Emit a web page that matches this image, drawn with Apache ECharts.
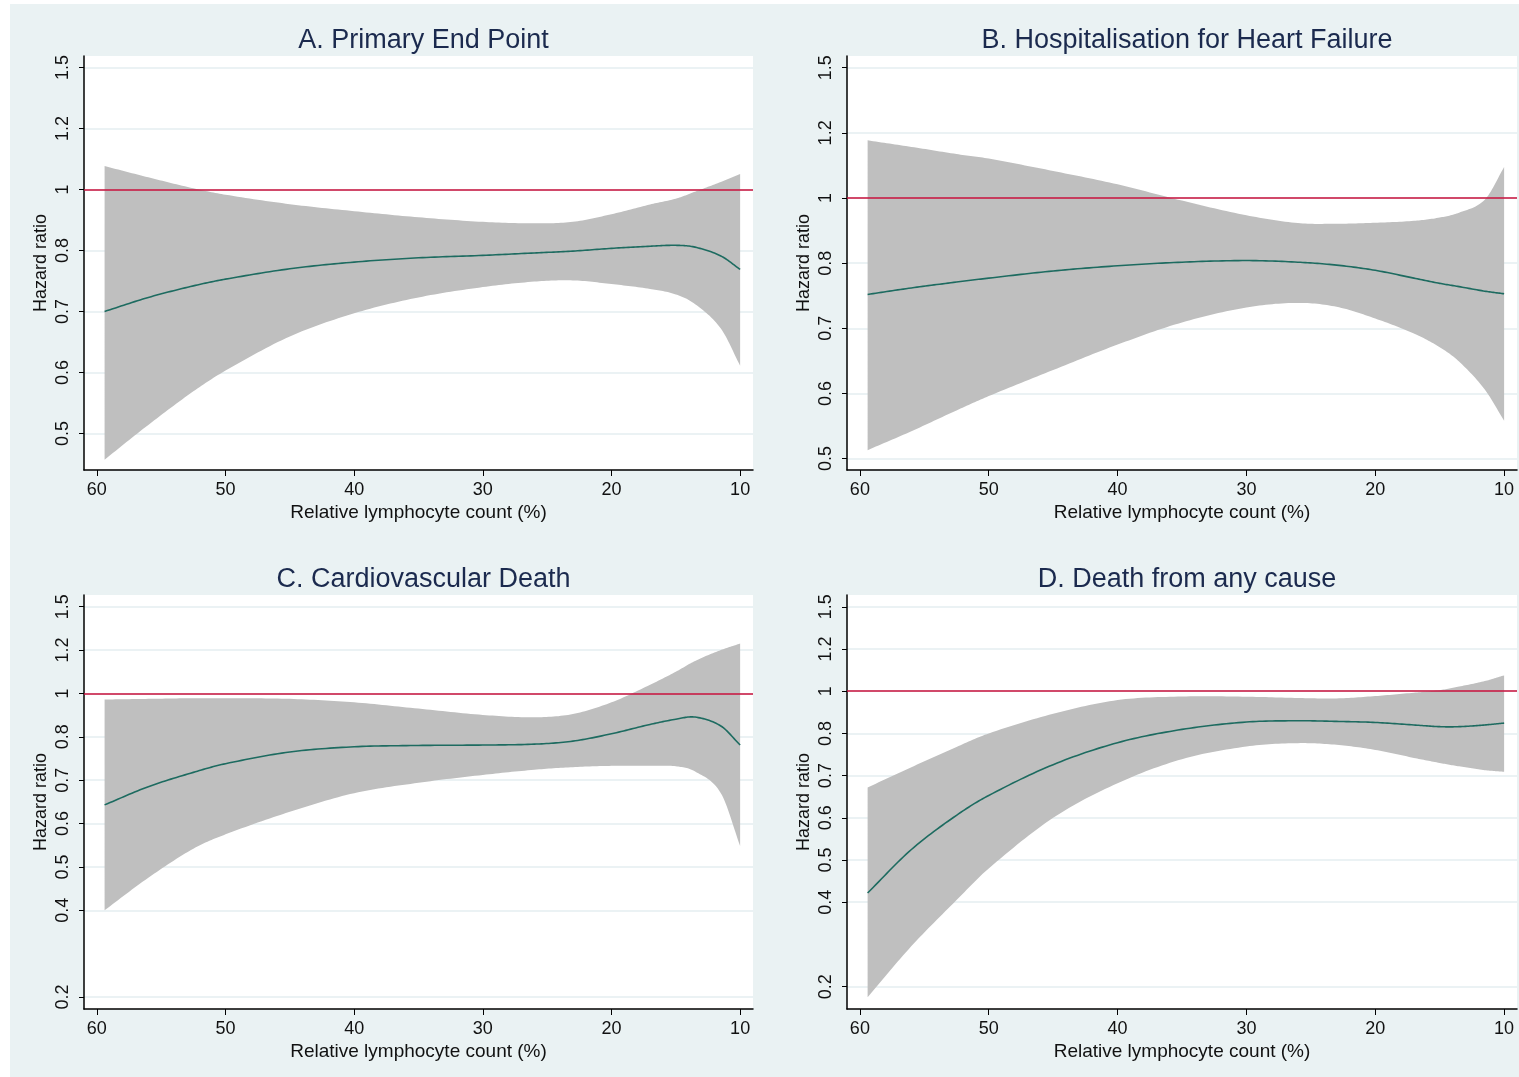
<!DOCTYPE html>
<html>
<head>
<meta charset="utf-8">
<script src="https://cdn.jsdelivr.net/npm/echarts@6/dist/echarts.min.js"></script>
<style>
html,body{margin:0;padding:0;background:#fff;}
#chart{width:1519px;height:1077px;}
</style>
</head>
<body>
<div id="chart"></div>
<script>
// ---------------- DATA ----------------
const panelTitles = [
  'A. Primary End Point',
  'B. Hospitalisation for Heart Failure',
  'C. Cardiovascular Death',
  'D. Death from any cause'
];
const xTickValues = [10, 20, 30, 40, 50, 60];
const yTicksAB = [0.5, 0.6, 0.7, 0.8, 1, 1.2, 1.5];
const yTicksCD = [0.2, 0.4, 0.5, 0.6, 0.7, 0.8, 1, 1.2, 1.5];
// Hazard-ratio axis is drawn with evenly spaced label positions
const hrAxisKnots = [0.2, 0.3, 0.4, 0.5, 0.6, 0.7, 0.8, 1.0, 1.2, 1.5];
const referenceHR = 1;

// Relative lymphocyte count (%)
const lymph = [59.4, 56, 52.5, 50, 45, 40, 35, 30, 26, 23, 20, 17, 15, 13.5, 11.5, 10];

// A. Primary end point
const hrA  = [0.700, 0.723, 0.742, 0.753, 0.770, 0.781, 0.788, 0.792, 0.796, 0.799, 0.807, 0.814, 0.817, 0.811, 0.791, 0.769];
const upA  = [1.077, 1.040, 1.004, 0.983, 0.952, 0.929, 0.909, 0.894, 0.889, 0.894, 0.919, 0.951, 0.970, 0.993, 1.025, 1.051];
const loA  = [0.457, 0.514, 0.569, 0.603, 0.659, 0.697, 0.723, 0.740, 0.749, 0.751, 0.745, 0.737, 0.728, 0.712, 0.672, 0.611];

// B. Hospitalisation for heart failure
const hrB  = [0.752, 0.762, 0.771, 0.777, 0.788, 0.796, 0.803, 0.808, 0.803, 0.797, 0.789, 0.777, 0.769, 0.764, 0.757, 0.753];
const upB  = [1.177, 1.157, 1.135, 1.121, 1.083, 1.042, 0.992, 0.947, 0.923, 0.921, 0.924, 0.930, 0.940, 0.955, 0.995, 1.095];
const loB  = [0.513, 0.542, 0.574, 0.596, 0.636, 0.675, 0.709, 0.732, 0.739, 0.733, 0.715, 0.692, 0.671, 0.649, 0.606, 0.558];

// C. Cardiovascular death
const hrC  = [0.643, 0.685, 0.718, 0.738, 0.765, 0.777, 0.780, 0.781, 0.783, 0.790, 0.814, 0.857, 0.881, 0.891, 0.850, 0.781];
const upC  = [0.972, 0.975, 0.978, 0.978, 0.975, 0.959, 0.930, 0.901, 0.890, 0.905, 0.959, 1.040, 1.100, 1.150, 1.200, 1.245];
const loC  = [0.400, 0.475, 0.542, 0.575, 0.627, 0.670, 0.694, 0.712, 0.724, 0.730, 0.733, 0.733, 0.732, 0.720, 0.670, 0.548];

// D. Death from any cause
const hrD  = [0.422, 0.525, 0.606, 0.653, 0.726, 0.778, 0.819, 0.854, 0.860, 0.857, 0.852, 0.840, 0.832, 0.832, 0.840, 0.849];
const upD  = [0.672, 0.720, 0.768, 0.800, 0.893, 0.958, 0.975, 0.974, 0.968, 0.966, 0.977, 0.993, 1.005, 1.022, 1.048, 1.075];
const loD  = [0.175, 0.296, 0.405, 0.480, 0.600, 0.682, 0.739, 0.769, 0.777, 0.773, 0.761, 0.742, 0.730, 0.722, 0.713, 0.709];

// ---------------- SCALE ----------------
function hrPos(v) {
  const k = hrAxisKnots;
  if (v <= k[0]) return (v - k[0]) / (k[1] - k[0]);
  const n = k.length - 1;
  if (v >= k[n]) return n + (v - k[n]) / (k[n] - k[n - 1]);
  for (let i = 0; i < n; i++) {
    if (v >= k[i] && v <= k[i + 1]) return i + (v - k[i]) / (k[i + 1] - k[i]);
  }
  return 0;
}

// smooth pixel-space curve through points (cubic Hermite, x monotone)
function smoothPixels(pts, steps) {
  const n = pts.length;
  if (n < 3) return pts.slice();
  const m = [];
  for (let i = 0; i < n; i++) {
    const a = pts[Math.max(0, i - 1)], b = pts[Math.min(n - 1, i + 1)];
    m.push((b[1] - a[1]) / (b[0] - a[0]));
  }
  const out = [];
  for (let i = 0; i < n - 1; i++) {
    const p0 = pts[i], p1 = pts[i + 1];
    const h = p1[0] - p0[0];
    for (let s = 0; s < steps; s++) {
      const t = s / steps, t2 = t * t, t3 = t2 * t;
      const h00 = 2 * t3 - 3 * t2 + 1, h10 = t3 - 2 * t2 + t, h01 = -2 * t3 + 3 * t2, h11 = t3 - t2;
      out.push([p0[0] + h * t, h00 * p0[1] + h10 * h * m[i] + h01 * p1[1] + h11 * h * m[i + 1]]);
    }
  }
  out.push(pts[n - 1]);
  return out;
}

// ---------------- LAYOUT ----------------
const panels = [
  {title: panelTitles[0], hr: hrA, up: upA, lo: loA, ticks: yTicksAB, grid: {left: 84, top: 56, width: 669, height: 414}, ymin: 2.40, ymax: 9.19},
  {title: panelTitles[1], hr: hrB, up: upB, lo: loB, ticks: yTicksAB, grid: {left: 847, top: 56, width: 670, height: 414}, ymin: 2.825, ymax: 9.18},
  {title: panelTitles[2], hr: hrC, up: upC, lo: loC, ticks: yTicksCD, grid: {left: 84, top: 595, width: 669, height: 414}, ymin: -0.277, ymax: 9.27},
  {title: panelTitles[3], hr: hrD, up: upD, lo: loD, ticks: yTicksCD, grid: {left: 847, top: 595, width: 670, height: 414}, ymin: -0.53, ymax: 9.28}
];

const FONT = '"Liberation Sans", Arial, Helvetica, sans-serif';
const BAND = '#bfbfbf';
const LINE = '#1d6b60';
const REF = '#c8103c';
const GRIDC = '#e4eef0';
const TITLEC = '#1b2a4e';

const option = {
  backgroundColor: '#eaf2f3',
  animation: false,
  textStyle: {fontFamily: FONT},
  graphic: [
    {type: 'rect', left: 0, top: 0, shape: {width: 10, height: 1077}, style: {fill: '#ffffff'}, silent: true},
    {type: 'rect', left: 0, top: 0, shape: {width: 1519, height: 4}, style: {fill: '#ffffff'}, silent: true}
  ],
  title: [],
  grid: [],
  xAxis: [],
  yAxis: [],
  series: []
};

panels.forEach((p, i) => {
  const g = p.grid;
  option.grid.push({left: g.left, top: g.top, width: g.width, height: g.height, show: true, backgroundColor: '#ffffff', borderWidth: 0, containLabel: false});
  option.title.push({
    text: p.title,
    left: g.left + g.width / 2,
    top: g.top - 34,
    textAlign: 'center',
    textStyle: {fontFamily: FONT, fontSize: 27, fontWeight: 'normal', color: TITLEC}
  });
  option.xAxis.push({
    type: 'value', gridIndex: i, min: 9, max: 61, inverse: true,
    name: 'Relative lymphocyte count (%)', nameLocation: 'middle', nameGap: 33,
    nameTextStyle: {fontFamily: FONT, fontSize: 19, color: '#111'},
    axisLine: {show: true, onZero: false, lineStyle: {color: '#000', width: 1.5}},
    axisTick: {show: true, length: 6, customValues: xTickValues, lineStyle: {color: '#000', width: 1}},
    axisLabel: {customValues: xTickValues, fontFamily: FONT, fontSize: 18, color: '#111', margin: 11},
    splitLine: {show: false}
  });
  const tickPos = p.ticks.map(hrPos);
  const labelFor = {};
  p.ticks.forEach(t => { labelFor[hrPos(t).toFixed(4)] = String(t); });
  option.yAxis.push({
    type: 'value', gridIndex: i, min: p.ymin, max: p.ymax,
    name: 'Hazard ratio', nameLocation: 'middle', nameGap: 34, nameRotate: 90,
    nameTextStyle: {fontFamily: FONT, fontSize: 18, color: '#111'},
    axisLine: {show: true, onZero: false, lineStyle: {color: '#000', width: 1.5}},
    axisTick: {show: true, length: 5, customValues: tickPos, lineStyle: {color: '#000', width: 1}},
    axisLabel: {
      customValues: tickPos, rotate: 90, fontFamily: FONT, fontSize: 18, color: '#111', margin: 12,
      formatter: v => labelFor[Number(v).toFixed(4)] || ''
    },
    splitLine: {show: true, lineStyle: {color: GRIDC, width: 1.5}}
  });

  const mid = lymph.map((x, j) => [x, hrPos(p.hr[j])]);
  const bandData = lymph.map((x, j) => [x, hrPos(p.lo[j]), hrPos(p.up[j])]);

  // reference line at HR = 1 (drawn beneath the band)
  option.series.push({
    type: 'line', xAxisIndex: i, yAxisIndex: i, data: mid, z: 1, silent: true,
    symbol: 'none', lineStyle: {opacity: 0, width: 0},
    markLine: {
      silent: true, symbol: 'none', label: {show: false},
      lineStyle: {color: REF, width: 1.6, type: 'solid'},
      data: [{yAxis: hrPos(referenceHR)}]
    }
  });
  // confidence band
  option.series.push({
    type: 'custom', xAxisIndex: i, yAxisIndex: i, data: bandData, z: 2, silent: true,
    renderItem: (params, api) => {
      if (params.dataIndex !== 0) return null;
      const lowPts = bandData.map(d => api.coord([d[0], d[1]]));
      const upPts = bandData.map(d => api.coord([d[0], d[2]]));
      const lowS = smoothPixels(lowPts, 16);
      const upS = smoothPixels(upPts, 16).reverse();
      return {
        type: 'polygon',
        shape: {points: lowS.concat(upS)},
        style: {fill: BAND, stroke: null}
      };
    }
  });
  // estimated hazard ratio curve
  option.series.push({
    type: 'custom', xAxisIndex: i, yAxisIndex: i, data: mid, z: 3, silent: true,
    renderItem: (params, api) => {
      if (params.dataIndex !== 0) return null;
      const pts = mid.map(d => api.coord(d));
      return {
        type: 'polyline',
        shape: {points: smoothPixels(pts, 16)},
        style: {stroke: LINE, lineWidth: 1.6, fill: null}
      };
    }
  });
});

const chart = echarts.init(document.getElementById('chart'), null, {renderer: 'canvas'});
chart.setOption(option);
</script>
</body>
</html>
